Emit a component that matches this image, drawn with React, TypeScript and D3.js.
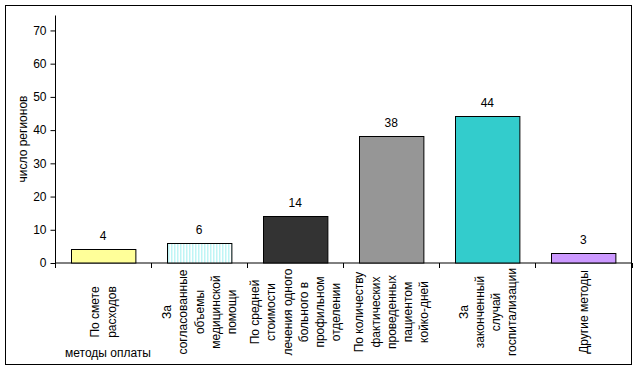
import React, { useEffect, useRef } from 'react';
import * as d3 from 'd3';

const categories: string[][] = [
  ['По смете', 'расходов'],
  ['За', 'согласованные', 'объемы', 'медицинской', 'помощи'],
  ['По средней', 'стоимости', 'лечения одного', 'больного в', 'профильном', 'отделении'],
  ['По количеству', 'фактических', 'проведенных', 'пациентом', 'койко-дней'],
  ['За', 'законченный', 'случай', 'госпитализации'],
  ['Другие методы'],
];
const regions = [4, 6, 14, 38, 44, 3];
const barColors = ['#FFFF99', 'url(#stripes)', '#333333', '#969696', '#33CCCC', '#CC99FF'];
const yTicks = [0, 10, 20, 30, 40, 50, 60, 70];

const W = 639;
const H = 372;

const App = () => {
  const ref = useRef<SVGSVGElement>(null);

  useEffect(() => {
    const svg = d3.select(ref.current);
    svg.selectAll('*').remove();

    const font = 'Arial, "Liberation Sans", sans-serif';
    const left = 55;
    const right = 631.5;
    const bottom = 262.5;
    const top = 15;

    const defs = svg.append('defs');
    const pat = defs
      .append('pattern')
      .attr('id', 'stripes')
      .attr('patternUnits', 'userSpaceOnUse')
      .attr('width', 3)
      .attr('height', 4);
    pat.append('rect').attr('width', 3).attr('height', 4).attr('fill', '#ffffff');
    pat.append('rect').attr('width', 1.5).attr('height', 4).attr('fill', '#BFF5F5');

    // outer frame
    svg
      .append('rect')
      .attr('x', 5.5)
      .attr('y', 5.5)
      .attr('width', 626)
      .attr('height', 359)
      .attr('fill', '#fff')
      .attr('stroke', '#000')
      .attr('stroke-width', 1);

    const x = d3
      .scaleBand<number>()
      .domain(d3.range(regions.length))
      .range([left, right])
      .paddingInner(0.33)
      .paddingOuter(0.165);
    const band = d3.scaleBand<number>().domain(d3.range(regions.length)).range([left, right]);
    const y = d3.scaleLinear().domain([0, 74.5]).range([bottom, top]);

    // y axis
    const yAxis = svg
      .append('g')
      .attr('transform', `translate(${left + 0.5},0.5)`)
      .call(d3.axisLeft(y).tickValues(yTicks).tickSize(5).tickPadding(4).tickFormat(d3.format('d')));
    yAxis.select('.domain').attr('d', `M0,${top}V${bottom}`);
    yAxis.selectAll('text').attr('font-family', font).attr('font-size', 12).attr('fill', '#000');

    // x axis
    const xAxis = svg.append('g').attr('transform', `translate(0,${bottom + 0.5})`);
    xAxis
      .append('line')
      .attr('x1', left)
      .attr('x2', right)
      .attr('stroke', '#000');
    xAxis
      .selectAll('line.tick')
      .data(d3.range(regions.length + 1))
      .enter()
      .append('line')
      .attr('class', 'tick')
      .attr('x1', (d) => Math.round(left + d * band.bandwidth()) + 0.5)
      .attr('x2', (d) => Math.round(left + d * band.bandwidth()) + 0.5)
      .attr('y1', 0)
      .attr('y2', 5)
      .attr('stroke', '#000');

    // bars
    svg
      .selectAll('.bar')
      .data(regions)
      .enter()
      .append('rect')
      .attr('class', 'bar')
      .attr('x', (d, i) => Math.round(x(i)!) + 0.5)
      .attr('y', (d) => Math.round(y(d)) + 0.5)
      .attr('width', x.bandwidth())
      .attr('height', (d) => bottom - Math.round(y(d)))
      .attr('fill', (d, i) => barColors[i])
      .attr('stroke', '#000')
      .attr('stroke-width', 1);

    // value labels
    svg
      .selectAll('.val')
      .data(regions)
      .enter()
      .append('text')
      .attr('class', 'val')
      .attr('x', (d, i) => x(i)! + x.bandwidth() / 2)
      .attr('y', (d) => y(d) - 9)
      .attr('text-anchor', 'middle')
      .attr('font-family', font)
      .attr('font-size', 12)
      .text((d) => d);

    // category labels, rotated
    const lineGap = 16.2;
    const midY = 312;
    categories.forEach((lines, i) => {
      const cx = band(i)! + band.bandwidth() / 2;
      lines.forEach((line, j) => {
        const lx = cx + (j - (lines.length - 1) / 2) * lineGap + 4.5;
        svg
          .append('text')
          .attr('transform', `translate(${lx},${midY}) rotate(-90)`)
          .attr('text-anchor', 'middle')
          .attr('font-family', font)
          .attr('font-size', 12)
          .text(line);
      });
    });

    // axis titles
    svg
      .append('text')
      .attr('transform', `translate(27,139) rotate(-90)`)
      .attr('text-anchor', 'middle')
      .attr('font-family', font)
      .attr('font-size', 12)
      .text('число регионов');

    svg
      .append('text')
      .attr('x', 65)
      .attr('y', 357)
      .attr('font-family', font)
      .attr('font-size', 12)
      .text('методы оплаты');
  }, []);

  return (
    <div style={{ position: 'absolute', left: 0, top: 0 }}>
      <svg ref={ref} width={W} height={H} style={{ display: 'block', background: '#fff' }} />
    </div>
  );
};

export default App;
